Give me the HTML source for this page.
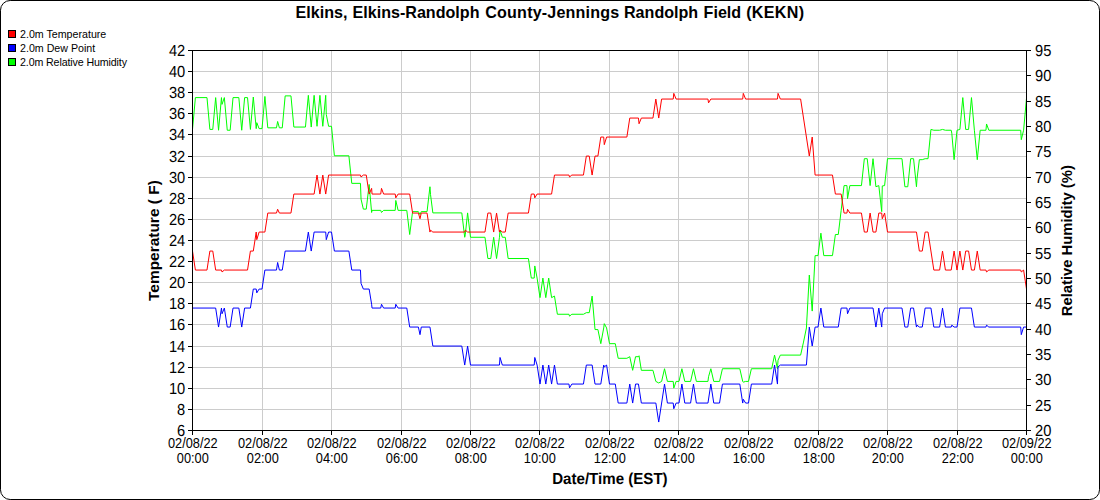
<!DOCTYPE html>
<html><head><meta charset="utf-8"><title>KEKN</title>
<style>
html,body{margin:0;padding:0;background:#fff;}
body{width:1100px;height:500px;overflow:hidden;position:relative;font-family:"Liberation Sans",sans-serif;}
#frame{position:absolute;left:0;top:0;width:1098px;height:498px;border:1px solid #000;border-radius:10.2px;background:#fff;}
svg{position:absolute;left:0;top:0;}
text{font-family:"Liberation Sans",sans-serif;fill:#000;}
.g{stroke:#cccccc;stroke-width:1;shape-rendering:crispEdges;}
.t{stroke:#000;stroke-width:1;shape-rendering:crispEdges;}
.s{fill:none;stroke-width:1;stroke-linejoin:round;}
.yl{font-size:14.67px;text-rendering:geometricPrecision;}
.xl{font-size:12.8px;}
.ttl{font-size:16.1px;font-weight:bold;}
.ax{font-size:14.67px;font-weight:bold;}
.lg{font-size:10.67px;}
</style></head><body>
<div id="frame"></div>
<svg width="1100" height="500" viewBox="0 0 1100 500">
<text y="18" class="ttl"><tspan x="295.5">Elkins, </tspan><tspan x="352.5">Elkins-Randolph </tspan><tspan x="485.3" letter-spacing="0.18">County-Jennings </tspan><tspan x="624.0">Randolph </tspan><tspan x="703.6">Field </tspan><tspan x="746.2" letter-spacing="0.3">(KEKN)</tspan></text>
<rect x="8.5" y="30.5" width="7" height="7" fill="#ff0000" stroke="#000" shape-rendering="crispEdges"/>
<rect x="8.5" y="44.5" width="7" height="7" fill="#0000ff" stroke="#000" shape-rendering="crispEdges"/>
<rect x="8.5" y="58.5" width="7" height="7" fill="#00ff00" stroke="#000" shape-rendering="crispEdges"/>
<text x="20" y="38" class="lg">2.0m Temperature</text>
<text x="20" y="52" class="lg">2.0m Dew Point</text>
<text x="20" y="66" class="lg" textLength="107" lengthAdjust="spacing">2.0m Relative Humidity</text>
<text transform="translate(158.6,240.6) rotate(-90) scale(1,0.97)" class="ax" text-anchor="middle" style="font-size:15.45px">Temperature ( F)</text>
<text transform="translate(1072.1,240.7) rotate(-90) scale(1,1.04)" class="ax" text-anchor="middle" style="font-size:14.8px">Relative Humidity (%)</text>
<text transform="translate(609.9,484) scale(1,1.06)" class="ax" text-anchor="middle" style="font-size:15.1px;text-rendering:geometricPrecision">Date/Time (EST)</text>
<line x1="192.5" y1="409.50" x2="1026.5" y2="409.50" class="g"/>
<line x1="192.5" y1="388.50" x2="1026.5" y2="388.50" class="g"/>
<line x1="192.5" y1="367.50" x2="1026.5" y2="367.50" class="g"/>
<line x1="192.5" y1="346.50" x2="1026.5" y2="346.50" class="g"/>
<line x1="192.5" y1="324.50" x2="1026.5" y2="324.50" class="g"/>
<line x1="192.5" y1="303.50" x2="1026.5" y2="303.50" class="g"/>
<line x1="192.5" y1="282.50" x2="1026.5" y2="282.50" class="g"/>
<line x1="192.5" y1="261.50" x2="1026.5" y2="261.50" class="g"/>
<line x1="192.5" y1="240.50" x2="1026.5" y2="240.50" class="g"/>
<line x1="192.5" y1="219.50" x2="1026.5" y2="219.50" class="g"/>
<line x1="192.5" y1="198.50" x2="1026.5" y2="198.50" class="g"/>
<line x1="192.5" y1="177.50" x2="1026.5" y2="177.50" class="g"/>
<line x1="192.5" y1="156.50" x2="1026.5" y2="156.50" class="g"/>
<line x1="192.5" y1="134.50" x2="1026.5" y2="134.50" class="g"/>
<line x1="192.5" y1="113.50" x2="1026.5" y2="113.50" class="g"/>
<line x1="192.5" y1="92.50" x2="1026.5" y2="92.50" class="g"/>
<line x1="192.5" y1="71.50" x2="1026.5" y2="71.50" class="g"/>
<line x1="262.50" y1="50.5" x2="262.50" y2="430.5" class="g"/>
<line x1="331.50" y1="50.5" x2="331.50" y2="430.5" class="g"/>
<line x1="401.50" y1="50.5" x2="401.50" y2="430.5" class="g"/>
<line x1="470.50" y1="50.5" x2="470.50" y2="430.5" class="g"/>
<line x1="539.50" y1="50.5" x2="539.50" y2="430.5" class="g"/>
<line x1="609.50" y1="50.5" x2="609.50" y2="430.5" class="g"/>
<line x1="678.50" y1="50.5" x2="678.50" y2="430.5" class="g"/>
<line x1="748.50" y1="50.5" x2="748.50" y2="430.5" class="g"/>
<line x1="818.50" y1="50.5" x2="818.50" y2="430.5" class="g"/>
<line x1="887.50" y1="50.5" x2="887.50" y2="430.5" class="g"/>
<line x1="957.50" y1="50.5" x2="957.50" y2="430.5" class="g"/>
<path d="M192.50 129.43 L195.40 97.60 L206.98 97.60 L209.88 129.43 L212.77 129.43 L215.67 97.60 L218.56 130.24 L221.46 97.60 L222.04 104.37 L224.35 97.60 L227.25 130.24 L230.15 130.24 L233.04 97.60 L238.83 97.60 L241.73 130.24 L244.62 97.60 L247.52 97.60 L250.42 129.43 L253.31 97.02 L256.21 128.63 L256.79 122.67 L259.10 128.63 L262.00 128.63 L264.90 96.45 L267.79 127.84 L276.48 127.84 L277.64 121.48 L279.38 127.84 L282.27 127.84 L285.17 95.88 L290.96 95.88 L293.85 127.06 L305.44 127.06 L308.33 95.33 L311.23 127.06 L314.12 95.33 L317.02 126.29 L319.92 95.33 L322.81 126.29 L325.71 95.33 L326.29 114.49 L328.60 126.29 L331.50 126.29 L334.40 155.78 L348.88 155.78 L351.77 183.35 L360.46 183.35 L361.04 199.13 L363.35 209.11 L366.25 209.11 L369.15 184.47 L371.61 212.47 L372.04 210.36 L380.73 210.36 L381.51 212.47 L383.62 210.36 L395.21 210.36 L395.79 200.46 L398.10 210.36 L406.79 210.36 L409.69 234.52 L412.58 211.62 L418.38 211.62 L420.00 214.51 L421.27 211.62 L427.06 211.62 L429.96 186.74 L430.54 194.66 L432.85 212.90 L461.81 212.90 L464.71 237.28 L465.29 234.78 L467.60 212.90 L470.50 237.28 L484.98 237.28 L487.88 258.52 L490.77 258.52 L493.67 237.28 L496.56 258.52 L499.46 237.28 L500.04 230.01 L502.35 237.28 L505.25 237.28 L508.15 258.52 L528.42 258.52 L531.31 278.07 L534.21 278.07 L534.79 265.94 L537.10 278.07 L540.00 297.63 L542.90 278.07 L545.79 297.63 L548.69 278.07 L551.58 297.63 L554.48 296.07 L557.38 314.25 L568.96 314.25 L569.54 316.15 L571.85 314.25 L583.44 314.25 L586.33 312.66 L589.23 312.66 L592.12 296.07 L595.02 329.56 L597.92 329.56 L600.81 343.67 L603.71 327.96 L604.29 323.65 L606.60 327.96 L609.50 343.67 L615.29 343.67 L618.19 358.30 L626.88 358.30 L629.77 356.70 L632.67 370.32 L635.56 356.70 L638.46 356.70 L639.04 355.76 L641.35 370.32 L652.94 370.32 L655.83 381.41 L658.73 382.98 L661.62 381.41 L664.52 368.73 L667.42 381.41 L673.21 381.41 L673.79 388.12 L676.10 381.41 L679.00 381.41 L681.90 368.73 L684.79 381.41 L690.58 381.41 L693.48 368.73 L696.38 381.41 L707.96 381.41 L708.54 376.76 L710.85 368.73 L713.75 381.41 L719.54 381.41 L722.44 368.73 L739.81 368.73 L742.71 381.41 L743.29 382.16 L745.60 381.41 L748.50 381.41 L751.40 368.73 L771.67 368.73 L774.56 355.10 L777.46 368.73 L778.04 360.19 L780.35 355.10 L800.62 355.10 L803.52 342.07 L806.42 327.96 L809.31 275.05 L812.21 311.08 L815.10 255.62 L818.00 255.62 L820.90 233.16 L823.79 255.62 L832.48 255.62 L835.38 234.52 L838.27 234.52 L841.17 210.36 L844.06 185.60 L846.96 185.60 L847.54 198.59 L849.85 185.60 L861.44 185.60 L864.33 158.69 L867.23 158.69 L870.12 185.60 L873.02 158.69 L875.92 186.74 L878.81 185.60 L881.71 211.62 L882.29 185.94 L884.60 185.60 L887.50 158.69 L901.98 158.69 L904.88 186.74 L907.77 186.74 L910.67 158.69 L913.56 158.69 L916.46 186.74 L917.04 178.75 L919.35 159.68 L922.25 159.68 L925.15 158.69 L928.04 158.69 L930.94 129.43 L933.83 130.24 L939.62 130.24 L942.52 129.43 L945.42 130.24 L951.21 130.24 L951.79 133.21 L954.10 159.68 L957.00 130.24 L959.90 129.43 L962.79 97.60 L965.69 129.43 L968.58 129.43 L971.48 97.60 L974.38 130.24 L977.27 159.68 L980.17 130.24 L985.96 130.24 L986.54 123.97 L988.85 130.24 L1020.71 130.24 L1021.29 139.68 L1023.60 130.24 L1026.50 98.18" class="s" stroke="#00ff00"/>
<path d="M192.50 308.06 L215.67 308.06 L218.56 327.06 L221.46 308.06 L222.04 313.76 L224.35 308.06 L227.25 327.06 L230.15 327.06 L233.04 308.06 L238.83 308.06 L241.73 327.06 L244.62 308.06 L250.42 308.06 L253.31 289.06 L256.21 289.06 L256.79 292.86 L259.10 289.06 L262.00 289.06 L264.90 270.06 L276.48 270.06 L277.64 262.46 L279.38 270.06 L282.27 270.06 L285.17 251.06 L305.44 251.06 L308.33 232.06 L311.23 251.06 L314.12 232.06 L325.71 232.06 L326.29 239.66 L328.60 232.06 L331.50 232.06 L334.40 251.06 L348.88 251.06 L351.77 270.06 L360.46 270.06 L361.04 283.36 L363.35 289.06 L369.15 289.06 L371.61 304.26 L372.04 308.06 L380.73 308.06 L381.51 304.26 L383.62 308.06 L395.21 308.06 L395.79 304.26 L398.10 308.06 L406.79 308.06 L409.69 327.06 L418.38 327.06 L420.00 334.66 L421.27 327.06 L429.96 327.06 L432.85 346.06 L461.81 346.06 L464.71 365.06 L467.60 346.06 L470.50 365.06 L499.46 365.06 L500.04 357.46 L502.35 365.06 L534.21 365.06 L534.79 357.46 L537.10 365.06 L540.00 384.06 L542.90 365.06 L545.79 384.06 L548.69 365.06 L551.58 384.06 L554.48 365.06 L557.38 384.06 L568.96 384.06 L569.54 387.86 L571.85 384.06 L583.44 384.06 L586.33 365.06 L592.12 365.06 L595.02 384.06 L600.81 384.06 L603.71 365.06 L604.29 366.96 L606.60 365.06 L609.50 384.06 L615.29 384.06 L618.19 403.06 L626.88 403.06 L629.77 384.06 L632.67 403.06 L635.56 384.06 L638.46 384.06 L641.35 403.06 L655.83 403.06 L658.73 422.06 L664.52 384.06 L667.42 403.06 L673.21 403.06 L673.79 408.76 L676.10 403.06 L679.00 403.06 L681.90 384.06 L684.79 403.06 L690.58 403.06 L693.48 384.06 L696.38 403.06 L707.96 403.06 L710.85 384.06 L713.75 403.06 L719.54 403.06 L722.44 384.06 L739.81 384.06 L742.71 403.06 L743.29 399.26 L745.60 403.06 L748.50 403.06 L751.40 384.06 L771.67 384.06 L774.56 365.06 L777.46 384.06 L778.04 366.96 L780.35 365.06 L806.42 365.06 L809.31 327.06 L812.21 346.06 L815.10 327.06 L818.00 327.06 L820.90 308.06 L823.79 327.06 L838.27 327.06 L841.17 308.06 L846.96 308.06 L847.54 313.76 L849.85 308.06 L873.02 308.06 L875.92 327.06 L878.81 308.06 L881.71 327.06 L882.29 313.76 L884.60 308.06 L901.98 308.06 L904.88 327.06 L907.77 327.06 L910.67 308.06 L913.56 308.06 L916.46 327.06 L917.04 325.16 L919.35 327.06 L922.25 327.06 L925.15 308.06 L930.94 308.06 L933.83 327.06 L939.62 327.06 L942.52 308.06 L945.42 327.06 L951.21 327.06 L951.79 325.16 L954.10 327.06 L957.00 327.06 L959.90 308.06 L971.48 308.06 L974.38 327.06 L985.96 327.06 L986.54 325.16 L988.85 327.06 L1020.71 327.06 L1021.29 334.66 L1023.60 327.06 L1026.50 327.06" class="s" stroke="#0000ff"/>
<path d="M192.50 251.06 L195.40 270.06 L206.98 270.06 L209.88 251.06 L212.77 251.06 L215.67 270.06 L221.46 270.06 L222.04 271.96 L224.35 270.06 L247.52 270.06 L250.42 251.06 L253.31 251.06 L256.21 232.06 L256.79 239.66 L259.10 232.06 L264.90 232.06 L267.79 213.06 L276.48 213.06 L277.64 209.26 L279.38 213.06 L290.96 213.06 L293.85 194.06 L314.12 194.06 L317.02 175.06 L319.92 194.06 L322.81 175.06 L325.71 194.06 L328.60 175.06 L360.46 175.06 L361.04 176.96 L363.35 175.06 L366.25 175.06 L369.15 194.06 L371.61 188.36 L372.04 194.06 L380.73 194.06 L381.51 188.36 L383.62 194.06 L395.21 194.06 L395.79 197.86 L398.10 194.06 L409.69 194.06 L412.58 213.06 L418.38 213.06 L420.00 218.76 L421.27 213.06 L427.06 213.06 L429.96 232.06 L430.54 230.16 L432.85 232.06 L464.71 232.06 L465.29 230.16 L467.60 232.06 L484.98 232.06 L487.88 213.06 L490.77 213.06 L493.67 232.06 L496.56 213.06 L499.46 232.06 L500.04 230.16 L502.35 232.06 L505.25 232.06 L508.15 213.06 L528.42 213.06 L531.31 194.06 L534.21 194.06 L534.79 197.86 L537.10 194.06 L551.58 194.06 L554.48 175.06 L568.96 175.06 L569.54 176.96 L571.85 175.06 L583.44 175.06 L586.33 156.06 L589.23 156.06 L592.12 175.06 L595.02 156.06 L597.92 156.06 L600.81 137.06 L603.71 137.06 L604.29 144.66 L606.60 137.06 L626.88 137.06 L629.77 118.06 L638.46 118.06 L639.04 123.76 L641.35 118.06 L652.94 118.06 L655.83 99.06 L658.73 118.06 L661.62 99.06 L673.21 99.06 L673.79 93.36 L676.10 99.06 L707.96 99.06 L708.54 102.86 L710.85 99.06 L742.71 99.06 L743.29 93.36 L745.60 99.06 L777.46 99.06 L778.04 93.36 L780.35 99.06 L800.62 99.06 L809.31 156.06 L812.21 137.06 L815.10 175.06 L832.48 175.06 L835.38 194.06 L841.17 194.06 L844.06 213.06 L846.96 213.06 L847.54 209.26 L849.85 213.06 L861.44 213.06 L864.33 232.06 L867.23 232.06 L870.12 213.06 L873.02 232.06 L875.92 232.06 L878.81 213.06 L881.71 213.06 L882.29 218.76 L884.60 213.06 L887.50 232.06 L916.46 232.06 L919.35 251.06 L922.25 251.06 L925.15 232.06 L928.04 232.06 L933.83 270.06 L939.62 270.06 L942.52 251.06 L945.42 270.06 L951.21 270.06 L954.10 251.06 L957.00 270.06 L959.90 251.06 L962.79 270.06 L965.69 251.06 L968.58 251.06 L971.48 270.06 L974.38 270.06 L977.27 251.06 L980.17 270.06 L985.96 270.06 L986.54 271.96 L988.85 270.06 L1020.71 270.06 L1021.29 271.96 L1023.60 270.06 L1026.50 289.06" class="s" stroke="#ff0000"/>
<rect x="192.5" y="50.5" width="834.0" height="380.0" fill="none" stroke="#000" stroke-width="1"/>
<line x1="188.0" y1="430.50" x2="192.5" y2="430.50" class="t"/>
<text transform="translate(185.20,436.00) scale(1,1.090)" class="yl" text-anchor="end">6</text>
<line x1="188.0" y1="409.50" x2="192.5" y2="409.50" class="t"/>
<text transform="translate(185.20,415.00) scale(1,1.090)" class="yl" text-anchor="end">8</text>
<line x1="188.0" y1="388.50" x2="192.5" y2="388.50" class="t"/>
<text transform="translate(185.20,394.00) scale(1,1.090)" class="yl" text-anchor="end">10</text>
<line x1="188.0" y1="367.50" x2="192.5" y2="367.50" class="t"/>
<text transform="translate(185.20,373.00) scale(1,1.090)" class="yl" text-anchor="end">12</text>
<line x1="188.0" y1="346.50" x2="192.5" y2="346.50" class="t"/>
<text transform="translate(185.20,352.00) scale(1,1.090)" class="yl" text-anchor="end">14</text>
<line x1="188.0" y1="324.50" x2="192.5" y2="324.50" class="t"/>
<text transform="translate(185.20,330.00) scale(1,1.090)" class="yl" text-anchor="end">16</text>
<line x1="188.0" y1="303.50" x2="192.5" y2="303.50" class="t"/>
<text transform="translate(185.20,309.00) scale(1,1.090)" class="yl" text-anchor="end">18</text>
<line x1="188.0" y1="282.50" x2="192.5" y2="282.50" class="t"/>
<text transform="translate(185.20,288.00) scale(1,1.090)" class="yl" text-anchor="end">20</text>
<line x1="188.0" y1="261.50" x2="192.5" y2="261.50" class="t"/>
<text transform="translate(185.20,267.00) scale(1,1.090)" class="yl" text-anchor="end">22</text>
<line x1="188.0" y1="240.50" x2="192.5" y2="240.50" class="t"/>
<text transform="translate(185.20,246.00) scale(1,1.090)" class="yl" text-anchor="end">24</text>
<line x1="188.0" y1="219.50" x2="192.5" y2="219.50" class="t"/>
<text transform="translate(185.20,225.00) scale(1,1.090)" class="yl" text-anchor="end">26</text>
<line x1="188.0" y1="198.50" x2="192.5" y2="198.50" class="t"/>
<text transform="translate(185.20,204.00) scale(1,1.090)" class="yl" text-anchor="end">28</text>
<line x1="188.0" y1="177.50" x2="192.5" y2="177.50" class="t"/>
<text transform="translate(185.20,183.00) scale(1,1.090)" class="yl" text-anchor="end">30</text>
<line x1="188.0" y1="156.50" x2="192.5" y2="156.50" class="t"/>
<text transform="translate(185.20,162.00) scale(1,1.090)" class="yl" text-anchor="end">32</text>
<line x1="188.0" y1="134.50" x2="192.5" y2="134.50" class="t"/>
<text transform="translate(185.20,140.00) scale(1,1.090)" class="yl" text-anchor="end">34</text>
<line x1="188.0" y1="113.50" x2="192.5" y2="113.50" class="t"/>
<text transform="translate(185.20,119.00) scale(1,1.090)" class="yl" text-anchor="end">36</text>
<line x1="188.0" y1="92.50" x2="192.5" y2="92.50" class="t"/>
<text transform="translate(185.20,98.00) scale(1,1.090)" class="yl" text-anchor="end">38</text>
<line x1="188.0" y1="71.50" x2="192.5" y2="71.50" class="t"/>
<text transform="translate(185.20,77.00) scale(1,1.090)" class="yl" text-anchor="end">40</text>
<line x1="188.0" y1="50.50" x2="192.5" y2="50.50" class="t"/>
<text transform="translate(185.20,56.00) scale(1,1.090)" class="yl" text-anchor="end">42</text>
<line x1="1026.5" y1="430.50" x2="1031.0" y2="430.50" class="t"/>
<text transform="translate(1035.00,436.00) scale(1,1.090)" class="yl" text-anchor="start">20</text>
<line x1="1026.5" y1="405.50" x2="1031.0" y2="405.50" class="t"/>
<text transform="translate(1035.00,411.00) scale(1,1.090)" class="yl" text-anchor="start">25</text>
<line x1="1026.5" y1="379.50" x2="1031.0" y2="379.50" class="t"/>
<text transform="translate(1035.00,385.00) scale(1,1.090)" class="yl" text-anchor="start">30</text>
<line x1="1026.5" y1="354.50" x2="1031.0" y2="354.50" class="t"/>
<text transform="translate(1035.00,360.00) scale(1,1.090)" class="yl" text-anchor="start">35</text>
<line x1="1026.5" y1="329.50" x2="1031.0" y2="329.50" class="t"/>
<text transform="translate(1035.00,335.00) scale(1,1.090)" class="yl" text-anchor="start">40</text>
<line x1="1026.5" y1="303.50" x2="1031.0" y2="303.50" class="t"/>
<text transform="translate(1035.00,309.00) scale(1,1.090)" class="yl" text-anchor="start">45</text>
<line x1="1026.5" y1="278.50" x2="1031.0" y2="278.50" class="t"/>
<text transform="translate(1035.00,284.00) scale(1,1.090)" class="yl" text-anchor="start">50</text>
<line x1="1026.5" y1="253.50" x2="1031.0" y2="253.50" class="t"/>
<text transform="translate(1035.00,259.00) scale(1,1.090)" class="yl" text-anchor="start">55</text>
<line x1="1026.5" y1="227.50" x2="1031.0" y2="227.50" class="t"/>
<text transform="translate(1035.00,233.00) scale(1,1.090)" class="yl" text-anchor="start">60</text>
<line x1="1026.5" y1="202.50" x2="1031.0" y2="202.50" class="t"/>
<text transform="translate(1035.00,208.00) scale(1,1.090)" class="yl" text-anchor="start">65</text>
<line x1="1026.5" y1="177.50" x2="1031.0" y2="177.50" class="t"/>
<text transform="translate(1035.00,183.00) scale(1,1.090)" class="yl" text-anchor="start">70</text>
<line x1="1026.5" y1="151.50" x2="1031.0" y2="151.50" class="t"/>
<text transform="translate(1035.00,157.00) scale(1,1.090)" class="yl" text-anchor="start">75</text>
<line x1="1026.5" y1="126.50" x2="1031.0" y2="126.50" class="t"/>
<text transform="translate(1035.00,132.00) scale(1,1.090)" class="yl" text-anchor="start">80</text>
<line x1="1026.5" y1="101.50" x2="1031.0" y2="101.50" class="t"/>
<text transform="translate(1035.00,107.00) scale(1,1.090)" class="yl" text-anchor="start">85</text>
<line x1="1026.5" y1="75.50" x2="1031.0" y2="75.50" class="t"/>
<text transform="translate(1035.00,81.00) scale(1,1.090)" class="yl" text-anchor="start">90</text>
<line x1="1026.5" y1="50.50" x2="1031.0" y2="50.50" class="t"/>
<text transform="translate(1035.00,56.00) scale(1,1.090)" class="yl" text-anchor="start">95</text>
<line x1="192.50" y1="430.5" x2="192.50" y2="435.0" class="t"/>
<text transform="translate(192.80,447.50) scale(1,1.080)" class="xl" text-anchor="middle">02/08/22</text>
<text transform="translate(192.80,462.70) scale(1,1.080)" class="xl" text-anchor="middle">00:00</text>
<line x1="262.50" y1="430.5" x2="262.50" y2="435.0" class="t"/>
<text transform="translate(262.80,447.50) scale(1,1.080)" class="xl" text-anchor="middle">02/08/22</text>
<text transform="translate(262.80,462.70) scale(1,1.080)" class="xl" text-anchor="middle">02:00</text>
<line x1="331.50" y1="430.5" x2="331.50" y2="435.0" class="t"/>
<text transform="translate(331.80,447.50) scale(1,1.080)" class="xl" text-anchor="middle">02/08/22</text>
<text transform="translate(331.80,462.70) scale(1,1.080)" class="xl" text-anchor="middle">04:00</text>
<line x1="401.50" y1="430.5" x2="401.50" y2="435.0" class="t"/>
<text transform="translate(401.80,447.50) scale(1,1.080)" class="xl" text-anchor="middle">02/08/22</text>
<text transform="translate(401.80,462.70) scale(1,1.080)" class="xl" text-anchor="middle">06:00</text>
<line x1="470.50" y1="430.5" x2="470.50" y2="435.0" class="t"/>
<text transform="translate(470.80,447.50) scale(1,1.080)" class="xl" text-anchor="middle">02/08/22</text>
<text transform="translate(470.80,462.70) scale(1,1.080)" class="xl" text-anchor="middle">08:00</text>
<line x1="539.50" y1="430.5" x2="539.50" y2="435.0" class="t"/>
<text transform="translate(539.80,447.50) scale(1,1.080)" class="xl" text-anchor="middle">02/08/22</text>
<text transform="translate(539.80,462.70) scale(1,1.080)" class="xl" text-anchor="middle">10:00</text>
<line x1="609.50" y1="430.5" x2="609.50" y2="435.0" class="t"/>
<text transform="translate(609.80,447.50) scale(1,1.080)" class="xl" text-anchor="middle">02/08/22</text>
<text transform="translate(609.80,462.70) scale(1,1.080)" class="xl" text-anchor="middle">12:00</text>
<line x1="678.50" y1="430.5" x2="678.50" y2="435.0" class="t"/>
<text transform="translate(678.80,447.50) scale(1,1.080)" class="xl" text-anchor="middle">02/08/22</text>
<text transform="translate(678.80,462.70) scale(1,1.080)" class="xl" text-anchor="middle">14:00</text>
<line x1="748.50" y1="430.5" x2="748.50" y2="435.0" class="t"/>
<text transform="translate(748.80,447.50) scale(1,1.080)" class="xl" text-anchor="middle">02/08/22</text>
<text transform="translate(748.80,462.70) scale(1,1.080)" class="xl" text-anchor="middle">16:00</text>
<line x1="818.50" y1="430.5" x2="818.50" y2="435.0" class="t"/>
<text transform="translate(818.80,447.50) scale(1,1.080)" class="xl" text-anchor="middle">02/08/22</text>
<text transform="translate(818.80,462.70) scale(1,1.080)" class="xl" text-anchor="middle">18:00</text>
<line x1="887.50" y1="430.5" x2="887.50" y2="435.0" class="t"/>
<text transform="translate(887.80,447.50) scale(1,1.080)" class="xl" text-anchor="middle">02/08/22</text>
<text transform="translate(887.80,462.70) scale(1,1.080)" class="xl" text-anchor="middle">20:00</text>
<line x1="957.50" y1="430.5" x2="957.50" y2="435.0" class="t"/>
<text transform="translate(957.80,447.50) scale(1,1.080)" class="xl" text-anchor="middle">02/08/22</text>
<text transform="translate(957.80,462.70) scale(1,1.080)" class="xl" text-anchor="middle">22:00</text>
<line x1="1026.50" y1="430.5" x2="1026.50" y2="435.0" class="t"/>
<text transform="translate(1026.80,447.50) scale(1,1.080)" class="xl" text-anchor="middle">02/09/22</text>
<text transform="translate(1026.80,462.70) scale(1,1.080)" class="xl" text-anchor="middle">00:00</text>
</svg>
</body></html>
